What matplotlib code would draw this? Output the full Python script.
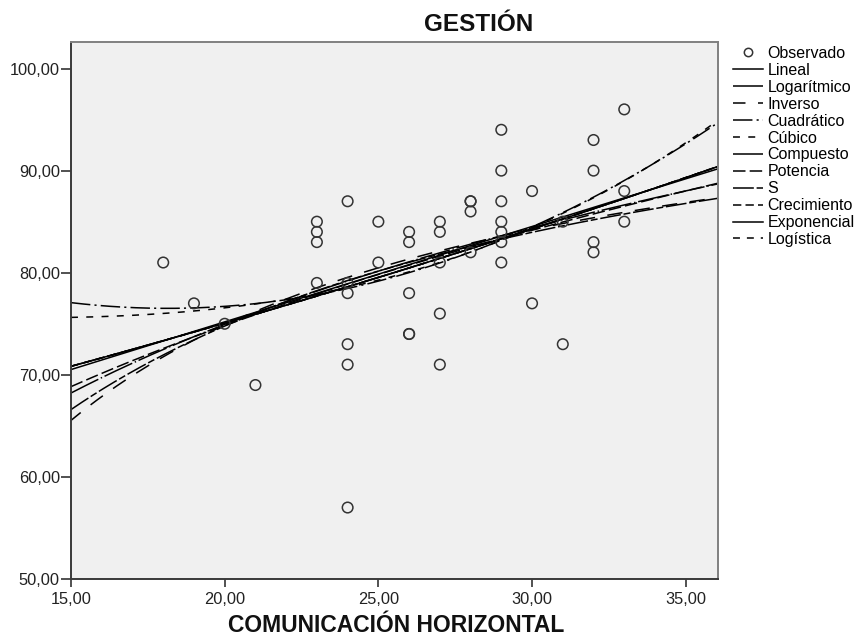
import numpy as np
import matplotlib
matplotlib.use("Agg")
import matplotlib.pyplot as plt
from matplotlib.lines import Line2D

plt.rcParams["font.family"] = ["Liberation Sans", "DejaVu Sans"]
plt.rcParams["lines.scale_dashes"] = False

# Observed values: COMUNICACIÓN HORIZONTAL (x) vs GESTIÓN (y)
com_horizontal = [18, 19, 20, 21,
                  23, 23, 23, 23,
                  24, 24, 24, 24, 24, 24,
                  25, 25,
                  26, 26, 26, 26, 26,
                  27, 27, 27, 27, 27,
                  28, 28, 28, 28,
                  29, 29, 29, 29, 29, 29, 29,
                  30, 30,
                  31, 31,
                  32, 32, 32, 32,
                  33, 33, 33]
gestion = [81, 77, 75, 69,
           85, 84, 83, 79,
           87, 79, 78, 73, 71, 57,
           85, 81,
           84, 83, 78, 74, 74,
           85, 84, 81, 76, 71,
           87, 87, 86, 82,
           94, 90, 87, 85, 84, 83, 81,
           88, 77,
           85, 73,
           93, 90, 83, 82,
           96, 88, 85]

x_ticks = [15, 20, 25, 30, 35]
y_ticks = [50, 60, 70, 80, 90, 100]
x_range = (15, 36.05)
y_range = (50, 102.6)

legend_labels = ["Lineal", "Logarítmico", "Inverso", "Cuadrático", "Cúbico",
                 "Compuesto", "Potencia", "S", "Crecimiento", "Exponencial",
                 "Logística"]
dash_styles = ["-", (0, (22, 2, 1, 2)), (2, (11, 9)), (0, (14, 3, 1.5, 3)),
               (0, (5, 6)), (0, (22, 2, 1, 2)), (0, (9, 3)), (0, (15, 2, 5, 2)),
               (0, (6, 3)), "-", (0, (5, 5))]


def fit_models(x, y):
    """Curve estimation fits for the eleven models."""
    lx, ly, ix = np.log(x), np.log(y), 1.0 / x
    lin = np.polyfit(x, y, 1)
    log = np.polyfit(lx, y, 1)
    inv = np.polyfit(ix, y, 1)
    quad = np.polyfit(x, y, 2)
    # cubic term set without the linear term (x is collinear with x^2, x^3)
    cub_design = np.column_stack([np.ones_like(x), x ** 2, x ** 3])
    cub, *_ = np.linalg.lstsq(cub_design, y, rcond=None)
    comp = np.polyfit(x, ly, 1)
    powr = np.polyfit(lx, ly, 1)
    s = np.polyfit(ix, ly, 1)
    return [
        lambda t: np.polyval(lin, t),
        lambda t: np.polyval(log, np.log(t)),
        lambda t: np.polyval(inv, 1.0 / t),
        lambda t: np.polyval(quad, t),
        lambda t: cub[0] + cub[1] * t ** 2 + cub[2] * t ** 3,
        lambda t: np.exp(np.polyval(comp, t)),
        lambda t: np.exp(np.polyval(powr, np.log(t))),
        lambda t: np.exp(np.polyval(s, 1.0 / t)),
        lambda t: np.exp(np.polyval(comp, t)),   # crecimiento
        lambda t: np.exp(np.polyval(comp, t)),   # exponencial
        lambda t: np.exp(np.polyval(comp, t)),   # logística sin límite superior
    ]


x = np.array(com_horizontal, dtype=float)
y = np.array(gestion, dtype=float)
models = fit_models(x, y)

fig = plt.figure(figsize=(8.56, 6.37), dpi=100)
ax = fig.add_axes([71 / 856, 1 - 579 / 637, 647 / 856, (579 - 42) / 637])
ax.set_facecolor("#f0f0f0")

grid = np.linspace(x_range[0], x_range[1], 300)
for f, ls in zip(models, dash_styles):
    ax.plot(grid, f(grid), color="black", lw=1.1, linestyle=ls, zorder=2)

ax.scatter(x, y, s=58, facecolors="none", edgecolors="#333333",
           linewidths=1.1, zorder=3)

ax.set_xlim(*x_range)
ax.set_ylim(*y_range)
ax.set_xticks(x_ticks)
ax.set_yticks(y_ticks)
ax.set_xticklabels([f"{v:.2f}".replace(".", ",") for v in x_ticks])
ax.set_yticklabels([f"{v:.2f}".replace(".", ",") for v in y_ticks])
ax.tick_params(axis="y", length=7, width=1.2, color="#333333", pad=1,
               labelsize=11.8, labelcolor="#222222")
ax.tick_params(axis="x", length=6, width=1.2, color="#333333", pad=3,
               labelsize=11.8, labelcolor="#222222")

for side in ["left", "bottom"]:
    ax.spines[side].set_color("#3a3a3a")
    ax.spines[side].set_linewidth(1.4)
for side in ["top", "right"]:
    ax.spines[side].set_color("#808080")
    ax.spines[side].set_linewidth(1.4)

fig.text(479 / 856, 1 - 31 / 637, "GESTIÓN", ha="center", va="baseline",
         fontsize=17.5, fontweight="bold", color="#111111")
fig.text(396 / 856, 1 - 632 / 637, "COMUNICACIÓN HORIZONTAL", ha="center",
         va="baseline", fontsize=16.5, fontweight="bold", color="#111111")

handles = [Line2D([], [], marker="o", linestyle="none", markersize=6,
                  markerfacecolor="none", markeredgecolor="#333333",
                  markeredgewidth=1.1)]
handles += [Line2D([], [], color="black", lw=1.1, linestyle=ls)
            for ls in dash_styles]
fig.legend(handles, ["Observado"] + legend_labels, loc="upper left",
           bbox_to_anchor=(733 / 856, 1 - 46 / 637), frameon=False,
           fontsize=11.5, labelspacing=0.12, handlelength=1.85,
           handletextpad=0.3, borderpad=0, borderaxespad=0)

fig.savefig("out.png", dpi=100)
